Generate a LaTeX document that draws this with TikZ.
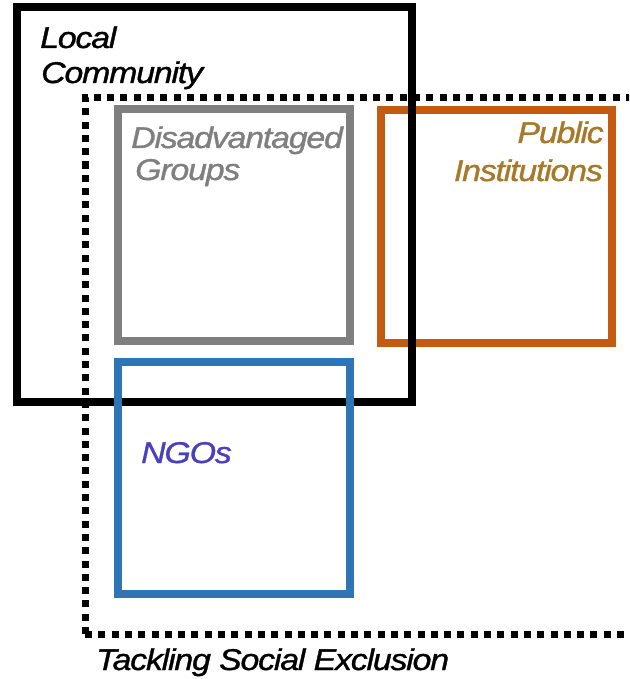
\documentclass[tikz,border=0pt]{standalone}
\usepackage{fontspec}
\setmainfont{Liberation Sans}
\newfontfamily\lblfont{Liberation Sans}[FakeStretch=1.13,FakeBold=1.1,LetterSpace=-4]
\definecolor{cgray}{HTML}{7F7F7F}
\definecolor{corange}{HTML}{C55A11}
\definecolor{cblue}{HTML}{2E75B6}
\definecolor{cgold}{HTML}{A67A2A}
\definecolor{cngo}{HTML}{4A40BE}
\tikzset{
  boxline/.style={line width=8pt, line join=miter},
  dotline/.style={line width=7pt, dash pattern=on 7pt off 6.3pt},
  lbl/.style={inner sep=0pt, font=\lblfont\fontsize{30}{35}\selectfont\itshape},
}
\begin{document}
\begin{tikzpicture}[x=1pt,y=-1pt]
\clip (0,0) rectangle (629,679);
\fill[white] (0,0) rectangle (629,679);
% Tackling Social Exclusion (dotted)
\draw[dotline] (85,634) -- (85,97.5) -- (660,97.5);
\draw[dotline] (85,634) -- (660,634);
% Public Institutions
\draw[boxline, corange] (380.5,110.5) rectangle (612,342.5);
% Local Community
\draw[boxline, black] (17,7.5) rectangle (412,402);
% Disadvantaged Groups
\draw[boxline, cgray] (117.5,109.5) rectangle (349.5,341);
% NGOs
\draw[boxline, cblue] (118,362) rectangle (350,594);
% labels
\node[lbl, anchor=base west] (lc1) at (40,48) {Local};
\node[lbl, anchor=base west] (lc2) at (41,83) {Community};
\node[lbl, anchor=base west, text=cgray] (dg1) at (131,148) {Disadvantaged};
\node[lbl, anchor=base west, text=cgray] (dg2) at (135,180) {Groups};
\node[lbl, anchor=base east, text=cgold] (pi1) at (604,143) {Public};
\node[lbl, anchor=base east, text=cgold] (pi2) at (603,181) {Institutions};
\node[lbl, anchor=base west, text=cngo] (ngo) at (141,463) {NGOs};
\node[lbl, anchor=base west] (tse) at (96,670) {Tackling Social Exclusion};
\end{tikzpicture}
\end{document}
